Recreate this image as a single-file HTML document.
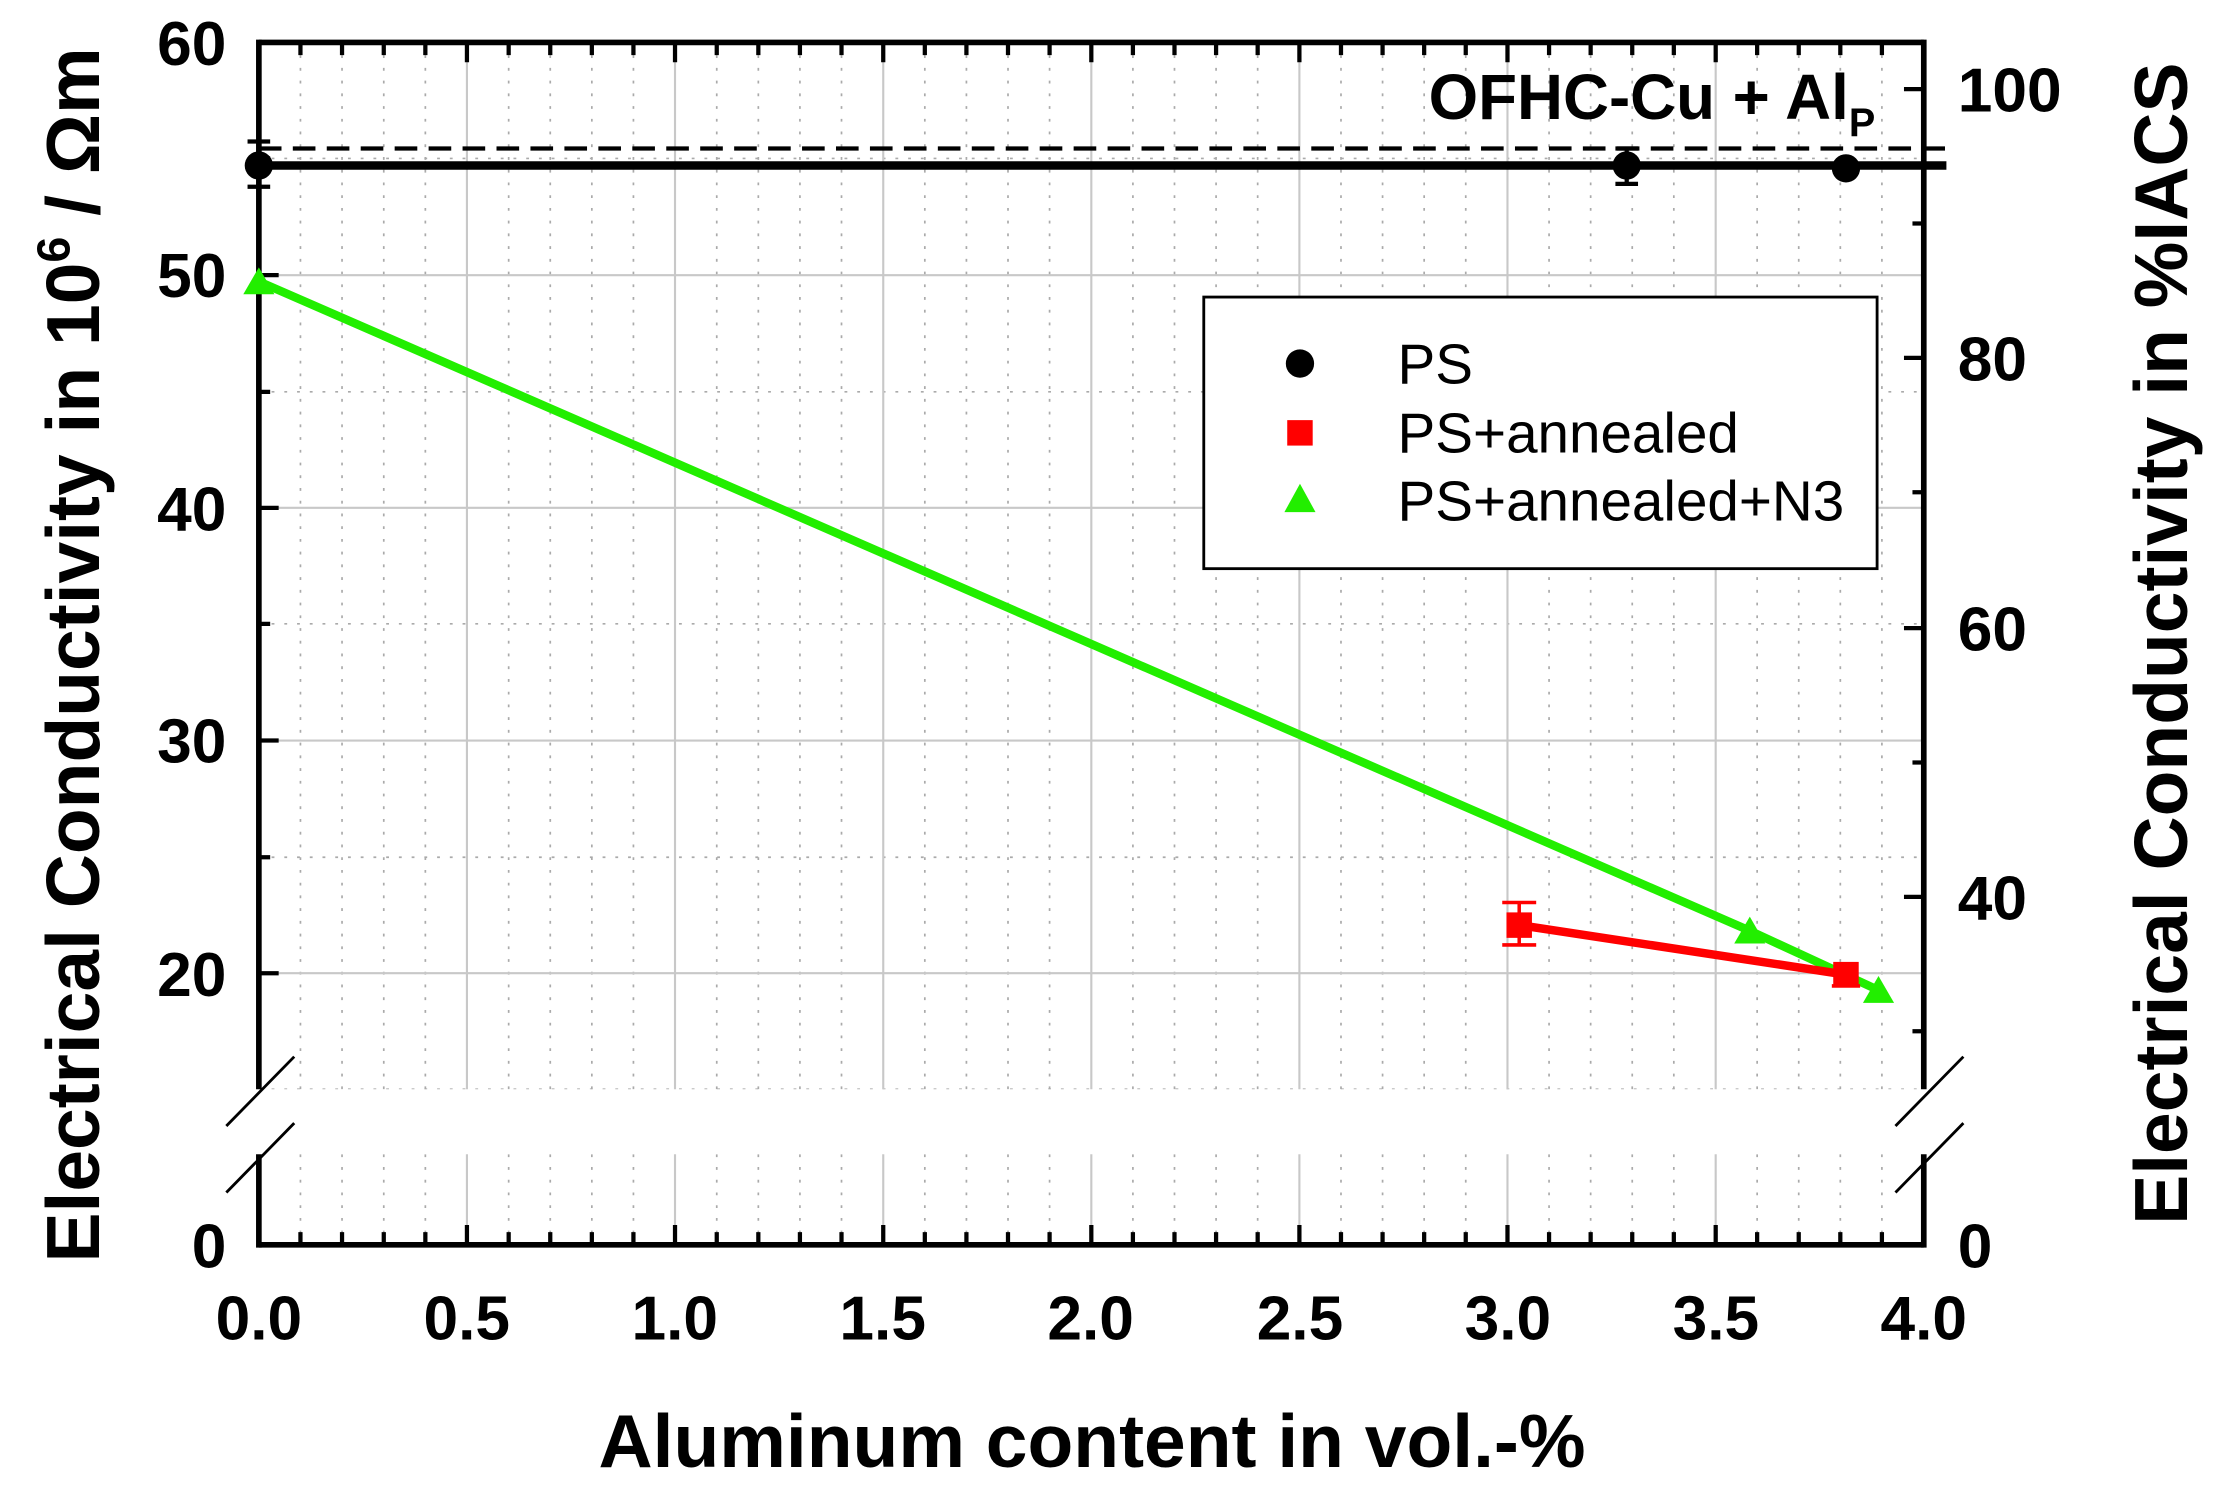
<!DOCTYPE html>
<html><head><meta charset="utf-8"><style>
html,body{margin:0;padding:0;background:#fff;}
svg{display:block;}
text{font-family:"Liberation Sans",Arial,sans-serif;}
</style></head><body>
<svg width="2218" height="1486" viewBox="0 0 1568 1050.5" preserveAspectRatio="none" xmlns="http://www.w3.org/2000/svg">
<defs>
<clipPath id="cu"><rect x="183" y="30" width="1177" height="740"/></clipPath>
<clipPath id="cl"><rect x="183" y="816" width="1177" height="64"/></clipPath>
</defs>
<g stroke="#aaa" stroke-width="1.2" stroke-dasharray="2,7">
<g clip-path="url(#cu)">
<path d="M212.4 30V770M241.8 30V770M271.3 30V770M300.7 30V770M359.6 30V770M389 30V770M418.4 30V770M447.8 30V770M506.7 30V770M536.1 30V770M565.5 30V770M594.9 30V770M653.8 30V770M683.2 30V770M712.6 30V770M742 30V770M800.9 30V770M830.3 30V770M859.7 30V770M889.1 30V770M948 30V770M977.4 30V770M1006.8 30V770M1036.2 30V770M1095.1 30V770M1124.5 30V770M1153.9 30V770M1183.3 30V770M1242.2 30V770M1271.6 30V770M1301 30V770M1330.4 30V770"/>
<path d="M183 112H1360M183 277H1360M183 441H1360M183 606H1360M183 770H1360"/>
</g>
<g clip-path="url(#cl)">
<path d="M212.4 816V880M241.8 816V880M271.3 816V880M300.7 816V880M359.6 816V880M389 816V880M418.4 816V880M447.8 816V880M506.7 816V880M536.1 816V880M565.5 816V880M594.9 816V880M653.8 816V880M683.2 816V880M712.6 816V880M742 816V880M800.9 816V880M830.3 816V880M859.7 816V880M889.1 816V880M948 816V880M977.4 816V880M1006.8 816V880M1036.2 816V880M1095.1 816V880M1124.5 816V880M1153.9 816V880M1183.3 816V880M1242.2 816V880M1271.6 816V880M1301 816V880M1330.4 816V880"/>
</g>
</g>
<g stroke="#c8c8c8" stroke-width="1.5">
<path d="M330.1 30V770M477.2 30V770M624.4 30V770M771.5 30V770M918.6 30V770M1065.7 30V770M1212.9 30V770"/>
<path d="M330.1 816V880M477.2 816V880M624.4 816V880M771.5 816V880M918.6 816V880M1065.7 816V880M1212.9 816V880"/>
<path d="M183 194.5H1360M183 359H1360M183 523.5H1360M183 688H1360"/>
</g>
<g stroke="#000" stroke-width="4" fill="none">
<path d="M183 30H1360"/>
<path d="M183 880H1360"/>
<path d="M183 28V770M183 816V882"/>
<path d="M1360 28V770M1360 816V882"/>
</g>
<g stroke="#000" stroke-width="2">
<path d="M160 796L208 747M160 843L208 794M1340 796L1388 747M1340 843L1388 794"/>
</g>
<g stroke="#000" stroke-width="3">
<path d="M330.1 880v-14M477.2 880v-14M624.4 880v-14M771.5 880v-14M918.6 880v-14M1065.7 880v-14M1212.9 880v-14"/>
<path d="M212.4 880v-9M241.8 880v-9M271.3 880v-9M300.7 880v-9M359.6 880v-9M389 880v-9M418.4 880v-9M447.8 880v-9M506.7 880v-9M536.1 880v-9M565.5 880v-9M594.9 880v-9M653.8 880v-9M683.2 880v-9M712.6 880v-9M742 880v-9M800.9 880v-9M830.3 880v-9M859.7 880v-9M889.1 880v-9M948 880v-9M977.4 880v-9M1006.8 880v-9M1036.2 880v-9M1095.1 880v-9M1124.5 880v-9M1153.9 880v-9M1183.3 880v-9M1242.2 880v-9M1271.6 880v-9M1301 880v-9M1330.4 880v-9"/>
<path d="M330.1 30v14M477.2 30v14M624.4 30v14M771.5 30v14M918.6 30v14M1065.7 30v14M1212.9 30v14"/>
<path d="M212.4 30v9M241.8 30v9M271.3 30v9M300.7 30v9M359.6 30v9M389 30v9M418.4 30v9M447.8 30v9M506.7 30v9M536.1 30v9M565.5 30v9M594.9 30v9M653.8 30v9M683.2 30v9M712.6 30v9M742 30v9M800.9 30v9M830.3 30v9M859.7 30v9M889.1 30v9M948 30v9M977.4 30v9M1006.8 30v9M1036.2 30v9M1095.1 30v9M1124.5 30v9M1153.9 30v9M1183.3 30v9M1242.2 30v9M1271.6 30v9M1301 30v9M1330.4 30v9"/>
<path d="M183 194.5h14M183 359h14M183 523.5h14M183 688h14M183 112h8M183 277h8M183 441h8M183 606h8"/>
<path d="M1360 63h-14M1360 253h-14M1360 444h-14M1360 634h-14M1360 158h-8M1360 348h-8M1360 539h-8M1360 729h-8"/>
</g>
<path d="M183 105H1378" stroke="#000" stroke-width="3" stroke-dasharray="16,8"/>
<path d="M183 117H1376" stroke="#000" stroke-width="6"/>
<g stroke="#000" stroke-width="3">
<path d="M183 100V132M175 100h16M175 132h16M1150 105V130M1142 130h16M1142 105h16"/>
</g>
<circle cx="183" cy="117" r="10" fill="#000"/>
<circle cx="1150" cy="117" r="10" fill="#000"/>
<circle cx="1305" cy="119" r="10" fill="#000"/>
<polyline points="183,199 1237,658 1328,700" fill="none" stroke="#22ee00" stroke-width="6"/>
<g stroke="#ff0000" stroke-width="2.5"><path d="M1074 638V668M1062 638h24M1062 668h24M1305 681V697M1295 697h20"/></g>
<polyline points="1074,654 1305,689" fill="none" stroke="#ff0000" stroke-width="6"/>
<rect x="1065" y="645" width="18" height="18" fill="#ff0000"/>
<rect x="1296" y="680" width="18" height="18" fill="#ff0000"/>
<g fill="#22ee00">
<polygon points="183,189 172,208 194,208"/>
<polygon points="1237,648 1226,667 1248,667"/>
<polygon points="1328,690 1317,709 1339,709"/>
</g>
<rect x="851" y="210" width="476" height="192" fill="#fff" stroke="#000" stroke-width="2"/>
<circle cx="919" cy="257" r="10" fill="#000"/>
<rect x="910" y="297" width="18" height="18" fill="#ff0000"/>
<polygon points="919,342 908,362 930,362" fill="#22ee00"/>
<g font-size="40" fill="#000">
<text x="988" y="271">PS</text>
<text x="988" y="320">PS+annealed</text>
<text x="988" y="368">PS+annealed+N3</text>
</g>
<text x="1010" y="84" font-size="45" font-weight="bold">OFHC-Cu + Al<tspan font-size="28" dy="12">P</tspan></text>
<g font-size="44" font-weight="bold" fill="#000">
<g text-anchor="end">
<text x="160" y="46">60</text>
<text x="160" y="210">50</text>
<text x="160" y="375">40</text>
<text x="160" y="539">30</text>
<text x="160" y="704">20</text>
<text x="160" y="896">0</text>
</g>
<g text-anchor="start">
<text x="1384" y="79">100</text>
<text x="1384" y="269">80</text>
<text x="1384" y="460">60</text>
<text x="1384" y="650">40</text>
<text x="1384" y="896">0</text>
</g>
<g text-anchor="middle">
<text x="183" y="947">0.0</text>
<text x="330" y="947">0.5</text>
<text x="477" y="947">1.0</text>
<text x="624" y="947">1.5</text>
<text x="771" y="947">2.0</text>
<text x="919" y="947">2.5</text>
<text x="1066" y="947">3.0</text>
<text x="1213" y="947">3.5</text>
<text x="1360" y="947">4.0</text>
</g>
</g>
<text x="772" y="1037" font-size="53" font-weight="bold" text-anchor="middle">Aluminum content in vol.-%</text>
<text transform="translate(70,463) rotate(-90)" font-size="53" font-weight="bold" text-anchor="middle">Electrical Conductivity in 10<tspan font-size="33" dy="-21">6</tspan><tspan dy="21"> / Ωm</tspan></text>
<text transform="translate(1546,455) rotate(-90)" font-size="53" font-weight="bold" text-anchor="middle">Electrical Conductivity in %IACS</text>
</svg>
</body></html>
